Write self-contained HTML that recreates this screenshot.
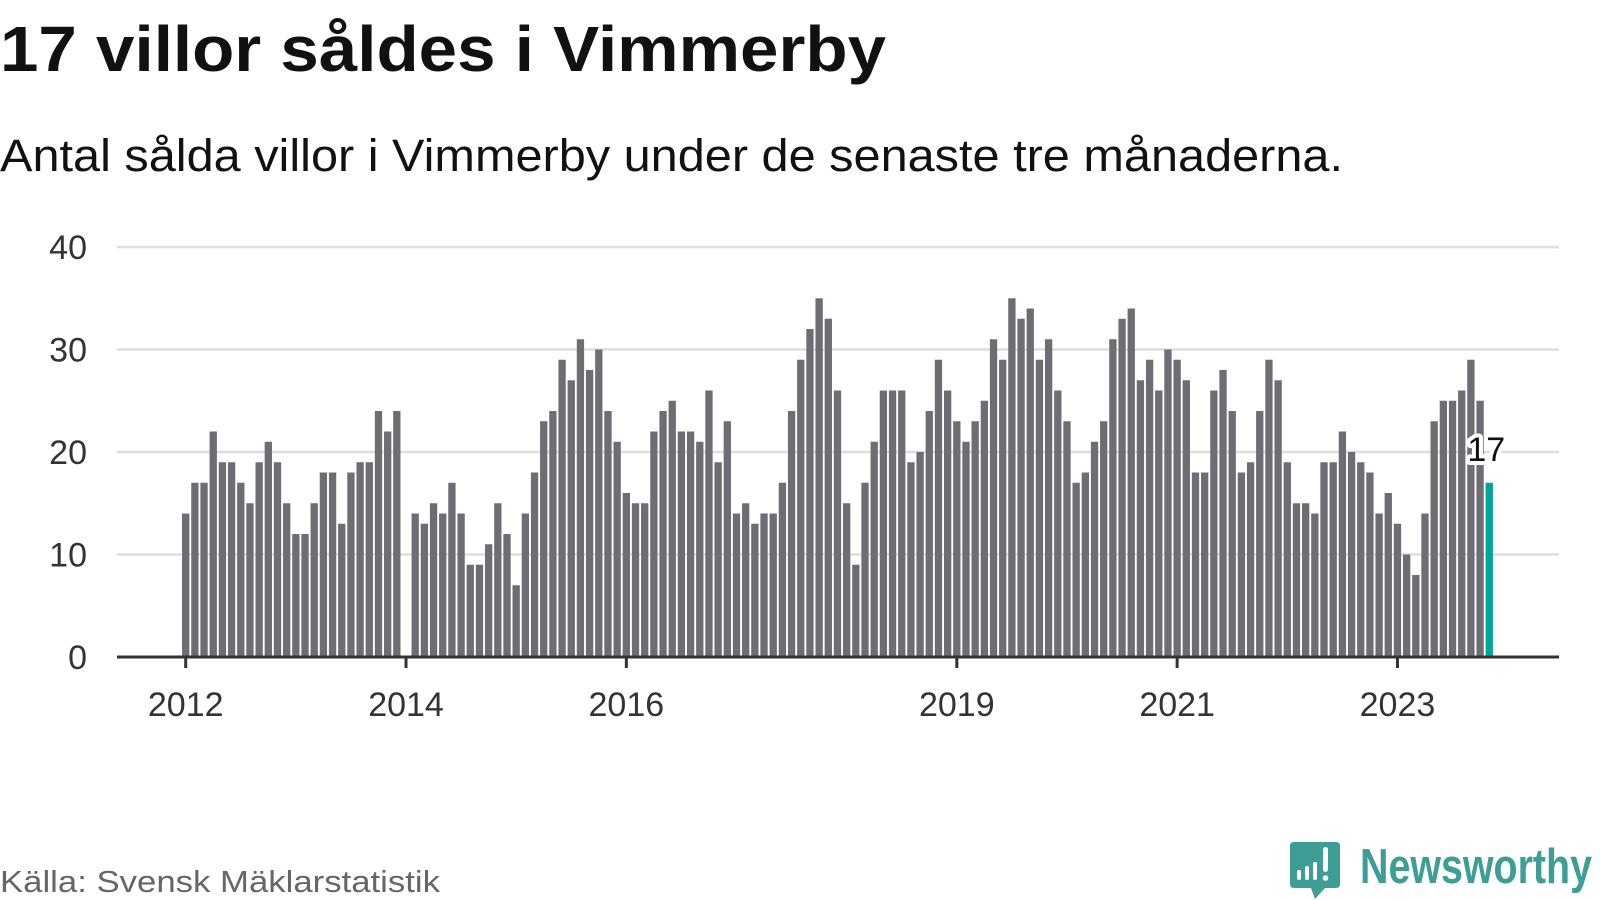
<!DOCTYPE html>
<html><head><meta charset="utf-8"><style>
html,body{margin:0;padding:0;background:#fff;width:1600px;height:900px;overflow:hidden}
svg{display:block;font-family:"Liberation Sans",sans-serif}
</style></head><body>
<svg id="chart" width="1600" height="900" viewBox="0 0 1600 900">
<text x="0" y="71" font-size="64" font-weight="bold" fill="#111" textLength="886" lengthAdjust="spacingAndGlyphs">17 villor såldes i Vimmerby</text>
<text x="0" y="171" font-size="45" fill="#111" textLength="1343" lengthAdjust="spacingAndGlyphs">Antal sålda villor i Vimmerby under de senaste tre månaderna.</text>
<g id="grid"></g>
<g id="bars"></g>
<g id="axes"></g>
<text x="0" y="892" font-size="31" fill="#666" textLength="440" lengthAdjust="spacingAndGlyphs">Källa: Svensk Mäklarstatistik</text>
<g>
<path d="M1294 842 H1336 Q1340 842 1340 846 V884 Q1340 888 1336 888 H1325 L1315 899 L1311 888 H1294 Q1290 888 1290 884 V846 Q1290 842 1294 842 Z" fill="#3e9e96"/>
<rect x="1297" y="870" width="4" height="10" rx="2" fill="#fff"/>
<rect x="1305" y="866" width="4" height="14" rx="2" fill="#fff"/>
<rect x="1313" y="862" width="4" height="18" rx="2" fill="#fff"/>
<rect x="1323" y="847" width="5" height="25" rx="2.5" fill="#fff"/>
<circle cx="1325.5" cy="878" r="2.8" fill="#fff"/>
<text x="1360" y="883" font-size="49" font-weight="bold" fill="#3e9e96" textLength="232" lengthAdjust="spacingAndGlyphs">Newsworthy</text>
</g>
</svg>
<script>
const values2012=[14,17,17,22,19,19,17,15,19,21,19,15];
const values2013=[12,12,15,18,18,13,18,19,19,24,22,24];
const values2014=[0,14,13,15,14,17,14,9,9,11,15,12];
const values2015=[7,14,18,23,24,29,27,31,28,30,24,21];
const values2016=[16,15,15,22,24,25,22,22,21,26,19,23];
const values2017=[14,15,13,14,14,17,24,29,32,35,33,26];
const values2018=[15,9,17,21,26,26,26,19,20,24,29,26];
const values2019=[23,21,23,25,31,29,35,33,34,29,31,26];
const values2020=[23,17,18,21,23,31,33,34,27,29,26,30];
const values2021=[29,27,18,18,26,28,24,18,19,24,29,27];
const values2022=[19,15,15,14,19,19,22,20,19,18,14,16];
const values2023=[13,10,8,14,23,25,25,26,29,25,17];
const startYear=2012;
const yTicks=[0,10,20,30,40];
const xTickYears=[2012,2014,2016,2019,2021,2023];

const values=[].concat(values2012,values2013,values2014,values2015,values2016,values2017,values2018,values2019,values2020,values2021,values2022,values2023);
const NS="http://www.w3.org/2000/svg";
const X0=185.7, STEP=9.18, BW=7.3, Y0=657, YPX=10.25, LEFT=117, RIGHT=1559;
const xScale=i=>X0+i*STEP;
const yScale=v=>Y0-v*YPX;
function mk(tag,attrs,parent){const e=document.createElementNS(NS,tag);for(const k in attrs)e.setAttribute(k,attrs[k]);parent.appendChild(e);return e;}
const grid=document.getElementById('grid'),bars=document.getElementById('bars'),axes=document.getElementById('axes');
yTicks.forEach(t=>{
  if(t>0){const l=mk('line',{x1:LEFT,x2:RIGHT,y1:yScale(t),y2:yScale(t),stroke:'#dedede','stroke-width':2.5},grid);
  
  }
  const tx=mk('text',{x:87,y:yScale(t)+12,'font-size':34,fill:'#333','text-anchor':'end'},axes);
  tx.textContent=t;
  
  
});
values.forEach((v,i)=>{
  const last=i===values.length-1;
  const r=mk('rect',{x:xScale(i)-BW/2,y:yScale(v),width:BW,height:v*YPX,fill:last?'#00a49a':'#6e6d74'},bars);
  
  
});
const base=mk('line',{x1:LEFT,x2:RIGHT,y1:Y0,y2:Y0,stroke:'#333','stroke-width':3},axes);


xTickYears.forEach(yr=>{
  const x=xScale((yr-startYear)*12);
  const tk=mk('line',{x1:x,x2:x,y1:Y0,y2:Y0+11,stroke:'#333','stroke-width':3},axes);
  
  
  const tx=mk('text',{x:x,y:716,'font-size':34,fill:'#333','text-anchor':'middle'},axes);
  tx.textContent=yr;
  
  
});
const li=values.length-1, lv=values[li];
const lab=mk('text',{x:xScale(li)-3,y:yScale(lv)-22,'font-size':34,fill:'#111','text-anchor':'middle',stroke:'#fff','stroke-width':8,'paint-order':'stroke','stroke-linejoin':'round'},axes);
lab.textContent=lv;


</script>
</body></html>
